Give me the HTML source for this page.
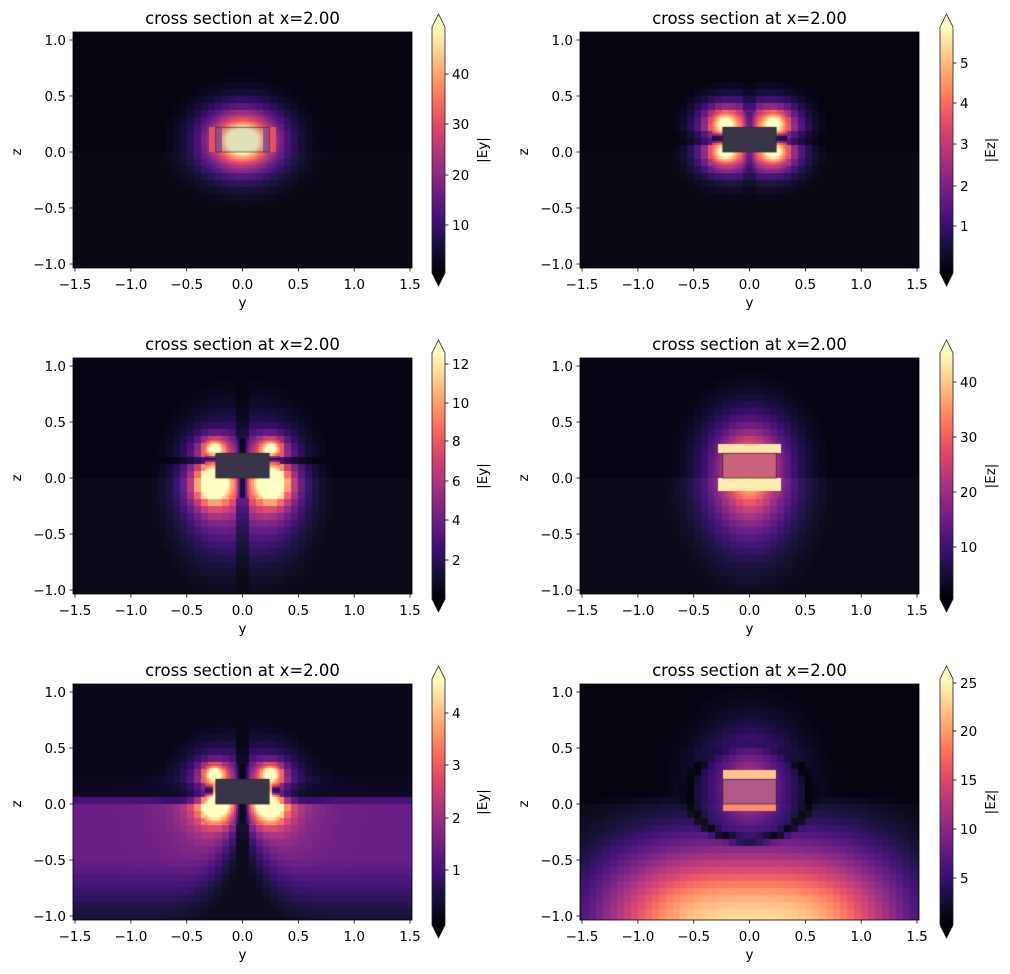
<!DOCTYPE html>
<html><head><meta charset="utf-8">
<style>
html,body{margin:0;padding:0;background:#fff;}
#wrap{position:relative;width:1010px;height:974px;overflow:hidden;background:#fff;}
canvas{position:absolute;}
svg{position:absolute;left:0;top:0;}
text{font-family:"DejaVu Sans","Liberation Sans",sans-serif;fill:#000;}
.t{font-size:16.5px;text-anchor:middle;}
.k{font-size:13.5px;}
.m{text-anchor:middle;}
.e{text-anchor:end;}
</style></head><body>
<div id="wrap">
<canvas id="c1" width="339" height="236" style="left:73px;top:32px"></canvas>
<canvas id="c2" width="339" height="236" style="left:580px;top:32px"></canvas>
<canvas id="c3" width="339" height="236" style="left:73px;top:358px"></canvas>
<canvas id="c4" width="339" height="236" style="left:580px;top:358px"></canvas>
<canvas id="c5" width="339" height="236" style="left:73px;top:684px"></canvas>
<canvas id="c6" width="339" height="236" style="left:580px;top:684px"></canvas>
<svg width="1010" height="974" viewBox="0 0 1010 974">
<defs>
<linearGradient id="mg" x1="0" y1="1" x2="0" y2="0">
<stop offset="0" stop-color="#000004"/><stop offset="0.1" stop-color="#140e36"/><stop offset="0.2" stop-color="#3b0f70"/><stop offset="0.3" stop-color="#641a80"/><stop offset="0.4" stop-color="#8c2981"/><stop offset="0.5" stop-color="#b73779"/><stop offset="0.6" stop-color="#de4968"/><stop offset="0.7" stop-color="#f7705c"/><stop offset="0.8" stop-color="#fe9f6d"/><stop offset="0.9" stop-color="#fecf92"/><stop offset="1" stop-color="#fcfdbf"/>
</linearGradient>
<g id="ax">
<rect x="0" y="0" width="339" height="236" fill="none" stroke="#000" stroke-width="0.8"/>
<g stroke="#000" stroke-width="0.8">
<line x1="2" y1="236" x2="2" y2="239.5"/><line x1="57.9" y1="236" x2="57.9" y2="239.5"/><line x1="113.7" y1="236" x2="113.7" y2="239.5"/><line x1="169.5" y1="236" x2="169.5" y2="239.5"/><line x1="225.4" y1="236" x2="225.4" y2="239.5"/><line x1="281.2" y1="236" x2="281.2" y2="239.5"/><line x1="337" y1="236" x2="337" y2="239.5"/>
<line x1="0" y1="8" x2="-3.5" y2="8"/><line x1="0" y1="64" x2="-3.5" y2="64"/><line x1="0" y1="120" x2="-3.5" y2="120"/><line x1="0" y1="176" x2="-3.5" y2="176"/><line x1="0" y1="232" x2="-3.5" y2="232"/>
</g>
<g class="k m">
<text x="2" y="257">−1.5</text><text x="57.9" y="257">−1.0</text><text x="113.7" y="257">−0.5</text><text x="169.5" y="257">0.0</text><text x="225.4" y="257">0.5</text><text x="281.2" y="257">1.0</text><text x="337" y="257">1.5</text>
</g>
<g class="k e">
<text x="-7" y="13">1.0</text><text x="-7" y="69">0.5</text><text x="-7" y="125">0.0</text><text x="-7" y="181">−0.5</text><text x="-7" y="237">−1.0</text>
</g>
<text class="k m" x="169.5" y="275">y</text>
<text class="k m" transform="translate(-52,120) rotate(-90)">z</text>
<text class="t" x="169.5" y="-8">cross section at x=2.00</text>
</g>
<g id="cb">
<rect x="0" y="-5" width="13" height="246" fill="url(#mg)"/>
<polygon points="0,-5 6.5,-18 13,-5" fill="#fcfdbf"/>
<polygon points="0,241 6.5,254 13,241" fill="#000004"/>
<polygon points="0,-5 6.5,-18 13,-5 13,241 6.5,254 0,241" fill="none" stroke="#222" stroke-width="0.8"/>
</g>
</defs>

<g transform="translate(73,32)"><use href="#ax"/></g>
<g transform="translate(432,32)"><use href="#cb"/>
<g stroke="#000" stroke-width="0.8"><line x1="13" y1="42" x2="16.5" y2="42"/><line x1="13" y1="92" x2="16.5" y2="92"/><line x1="13" y1="143" x2="16.5" y2="143"/><line x1="13" y1="193" x2="16.5" y2="193"/></g>
<g class="k"><text x="20" y="47">40</text><text x="20" y="97">30</text><text x="20" y="148">20</text><text x="20" y="198">10</text></g>
<text class="k m" transform="translate(55,118) rotate(-90)">|Ey|</text>
</g>

<g transform="translate(580,32)"><use href="#ax"/></g>
<g transform="translate(940,32)"><use href="#cb"/>
<g stroke="#000" stroke-width="0.8"><line x1="13" y1="31" x2="16.5" y2="31"/><line x1="13" y1="71" x2="16.5" y2="71"/><line x1="13" y1="112" x2="16.5" y2="112"/><line x1="13" y1="154" x2="16.5" y2="154"/><line x1="13" y1="194" x2="16.5" y2="194"/></g>
<g class="k"><text x="20" y="36">5</text><text x="20" y="76">4</text><text x="20" y="117">3</text><text x="20" y="159">2</text><text x="20" y="199">1</text></g>
<text class="k m" transform="translate(55,118) rotate(-90)">|Ez|</text>
</g>

<g transform="translate(73,358)"><use href="#ax"/></g>
<g transform="translate(432,358)"><use href="#cb"/>
<g stroke="#000" stroke-width="0.8"><line x1="13" y1="6" x2="16.5" y2="6"/><line x1="13" y1="45" x2="16.5" y2="45"/><line x1="13" y1="83" x2="16.5" y2="83"/><line x1="13" y1="123" x2="16.5" y2="123"/><line x1="13" y1="162" x2="16.5" y2="162"/><line x1="13" y1="202" x2="16.5" y2="202"/></g>
<g class="k"><text x="20" y="11">12</text><text x="20" y="50">10</text><text x="20" y="88">8</text><text x="20" y="128">6</text><text x="20" y="167">4</text><text x="20" y="207">2</text></g>
<text class="k m" transform="translate(55,118) rotate(-90)">|Ey|</text>
</g>

<g transform="translate(580,358)"><use href="#ax"/></g>
<g transform="translate(940,358)"><use href="#cb"/>
<g stroke="#000" stroke-width="0.8"><line x1="13" y1="24" x2="16.5" y2="24"/><line x1="13" y1="79" x2="16.5" y2="79"/><line x1="13" y1="134" x2="16.5" y2="134"/><line x1="13" y1="189" x2="16.5" y2="189"/></g>
<g class="k"><text x="20" y="29">40</text><text x="20" y="84">30</text><text x="20" y="139">20</text><text x="20" y="194">10</text></g>
<text class="k m" transform="translate(55,118) rotate(-90)">|Ez|</text>
</g>

<g transform="translate(73,684)"><use href="#ax"/></g>
<g transform="translate(432,684)"><use href="#cb"/>
<g stroke="#000" stroke-width="0.8"><line x1="13" y1="29" x2="16.5" y2="29"/><line x1="13" y1="81" x2="16.5" y2="81"/><line x1="13" y1="134" x2="16.5" y2="134"/><line x1="13" y1="186" x2="16.5" y2="186"/></g>
<g class="k"><text x="20" y="34">4</text><text x="20" y="86">3</text><text x="20" y="139">2</text><text x="20" y="191">1</text></g>
<text class="k m" transform="translate(55,118) rotate(-90)">|Ey|</text>
</g>

<g transform="translate(580,684)"><use href="#ax"/></g>
<g transform="translate(940,684)"><use href="#cb"/>
<g stroke="#000" stroke-width="0.8"><line x1="13" y1="-1" x2="16.5" y2="-1"/><line x1="13" y1="47" x2="16.5" y2="47"/><line x1="13" y1="96" x2="16.5" y2="96"/><line x1="13" y1="145" x2="16.5" y2="145"/><line x1="13" y1="194" x2="16.5" y2="194"/></g>
<g class="k"><text x="20" y="4">25</text><text x="20" y="52">20</text><text x="20" y="101">15</text><text x="20" y="150">10</text><text x="20" y="199">5</text></g>
<text class="k m" transform="translate(55,118) rotate(-90)">|Ez|</text>
</g>
</svg>
</div>
<script>
var S=[[0,0,4],[20,14,54],[59,15,112],[100,26,128],[140,41,129],[183,55,121],[222,73,104],[247,112,92],[254,159,109],[254,207,146],[252,253,191]];
function mag(v){if(v<0)v=0;if(v>1)v=1;var f=v*10,i=Math.floor(f);if(i>=10)return S[10];var t=f-i,a=S[i],b=S[i+1];return[a[0]+(b[0]-a[0])*t,a[1]+(b[1]-a[1])*t,a[2]+(b[2]-a[2])*t];}
function L(y,z,yc,zc,sy,sz){var d=Math.sqrt(Math.pow((y-yc)/sy,2)+Math.pow((z-zc)/sz,2));return Math.exp(-Math.pow(d,1.3));}
function inCore(y,z){return Math.abs(y)<=0.24&&z>=0&&z<=0.22;}
var F=[];
F[1]=function(y,z){var v=1.6*L(y,z,0,0.1,0.25,0.2);var a=Math.abs(y);
 if(z>=0&&z<=0.22){if(a>=0.245&&a<=0.3)v=0.62;else if(a>=0.19&&a<0.245)v=Math.min(v,0.42);}
 return Math.max(v,0.02);};
F[2]=function(y,z){var v=0;[[0.22,0.26],[-0.22,0.26],[0.22,-0.01],[-0.22,-0.01]].forEach(function(p){v+=1.05*L(y,z,p[0],p[1],0.17,0.14);});
 v*= (1-0.85*Math.exp(-Math.pow((z-0.12)/0.04,2))*(Math.abs(y)>0.2?1:0));
 v*=(1-0.5*Math.exp(-Math.pow(y/0.05,2)));
 if(inCore(y,z))v=0.05;return Math.max(v,0.02);};
F[3]=function(y,z){var v=0;[0.25,-0.25].forEach(function(s){v+=1.0*L(y,z,s,0.26,0.1,0.08);v+=1.35*L(y,z,s*1.08,-0.05,0.13,0.12);v+=0.6*L(y,z,s,-0.1,0.25,0.4);});
 v*=(1-0.9*Math.exp(-Math.pow(y/0.04,2)));v*= (1-0.8*Math.exp(-Math.pow((z-0.17)/0.03,2)));
 if(inCore(y,z))v=0.05;return Math.max(v,0.03);};
F[4]=function(y,z){var v=z>0?1.05*L(y,z,0,0.1,0.28,0.33):1.05*L(y,z,0,0.05,0.3,0.45);var a=Math.abs(y);
 if(a<0.28&&z>0.22&&z<0.3)v=0.95; if(a<0.28&&z<0&&z>-0.12)v=Math.max(v,0.95);
 if(inCore(y,z))v=0.6;return Math.max(v,0.03);};
F[5]=function(y,z){var v=0;[0.25,-0.25].forEach(function(s){v+=1.1*L(y,z,s,0.27,0.09,0.07);v+=1.15*L(y,z,s,-0.02,0.1,0.1);v+=0.5*L(y,z,s,0.1,0.25,0.3);});
 var b=0;if(z<0){b=0.3*(1-Math.exp(-Math.pow(y/(0.06+0.35*(-z)),2)))*(z<-0.5?Math.max(0.3,1-(-z-0.5)*1.4):1);}
 else{b=0.3*Math.exp(-z/0.12)*(1-Math.exp(-Math.pow(Math.max(0,Math.abs(y)-0.4)/0.3,2)));}
 v=v+b;v*=(1-Math.exp(-Math.pow(y/0.05,2)));v*=(1-0.8*Math.exp(-Math.pow((z-0.12)/0.04,2))*(Math.abs(y)>0.26?1:0));
 if(inCore(y,z))v=0.05;return Math.max(v,0.04);};
F[6]=function(y,z){var a=Math.abs(y);var h=0.6*L(y,z,0,0.15,0.33,0.4);
 var s=0;if(z<0.05){s=0.92*Math.exp(-Math.pow((z+1.08)/0.72,2))*Math.exp(-Math.pow(a/1.35,3));}
 var v=Math.max(h,s);var r=Math.sqrt(Math.pow(y/0.55,2)+Math.pow((z-0.1)/0.42,2));
 v*=(1-0.9*Math.exp(-Math.pow((r-1)/0.09,2))*(z<0.35?1:0.3));
 if(a<0.25&&z>0.22&&z<0.3)v=0.88; if(a<0.25&&z<0&&z>-0.07)v=0.75;
 if(inCore(y,z))v=0.5;return Math.max(v,0.02);};
for(var p=1;p<=6;p++){
 var c=document.getElementById('c'+p),ctx=c.getContext('2d'),im=ctx.createImageData(339,236),d=im.data;
 for(var py=0;py<236;py++)for(var px=0;px<339;px++){
  var y=(px+0.5-169.5)/111.7,z=(120-py-0.5)/112;
  var near=Math.abs(y)<0.34&&z>-0.18&&z<0.36;
  var g=near?0.02:0.0625;
  var yq=(Math.floor(y/g)+0.5)*g,zq=(Math.floor(z/g)+0.5)*g;
  var col=mag(F[p](yq,zq));
  if(z<0){col=[col[0]+5,col[1]+5,col[2]+5];}
  if(inCore(y,z)){col=[col[0]*0.7+160*0.3,col[1]*0.7+160*0.3,col[2]*0.7+170*0.3];}
  var i=(py*339+px)*4;d[i]=col[0];d[i+1]=col[1];d[i+2]=col[2];d[i+3]=255;}
 ctx.putImageData(im,0,0);
 ctx.strokeStyle='rgba(40,40,50,0.7)';ctx.lineWidth=1;
 ctx.strokeRect(169.5-0.24*111.7,120-0.22*112,0.48*111.7,0.22*112);
}
</script>
</body></html>
